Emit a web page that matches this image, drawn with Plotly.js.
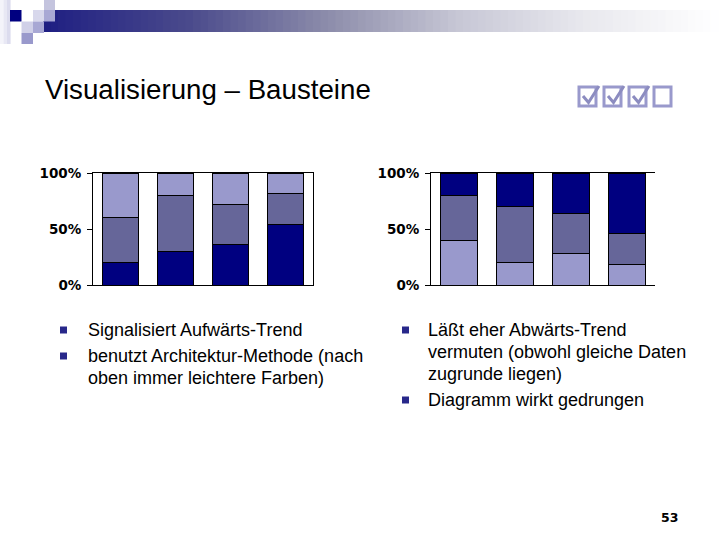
<!DOCTYPE html>
<html>
<head>
<meta charset="utf-8">
<script src="https://cdn.plot.ly/plotly-3.0.1.min.js"></script>
<style>html,body{margin:0;padding:0;background:#fff;}#chart{width:720px;height:540px;}</style>
</head>
<body>
<div id="chart"></div>
<script>
// ---- data ----
const categories = ['A', 'B', 'C', 'D'];
const darkValues = [20, 30, 36, 54];
const midValues = [40, 50, 36, 28];
const lightValues = [40, 20, 28, 18];
const yTickVals = [0, 50, 100];
const yTickText = ['0%', '50%', '100%'];
const titleText = 'Visualisierung – Bausteine';
const leftBullets = [['Signalisiert Aufwärts-Trend'], ['benutzt Architektur-Methode (nach', 'oben immer leichtere Farben)']];
const rightBullets = [['Läßt eher Abwärts-Trend', 'vermuten (obwohl gleiche Daten', 'zugrunde liegen)'], ['Diagramm wirkt gedrungen']];
const pageNumber = '53';

// ---- helpers ----
const W = 720, H = 540;
const px = x => x / W;
const py = y => 1 - y / H;
const COL_DARK = '#000080', COL_MID = '#666699', COL_LIGHT = '#9999CC';
const FONT = 'Arial, "Liberation Sans", sans-serif';

function bar(vals, color, xa, ya) {
  return {type: 'bar', x: categories, y: vals, xaxis: xa, yaxis: ya,
    marker: {color: color, line: {color: '#000', width: 1}}, hoverinfo: 'skip', showlegend: false};
}

const traces = [
  bar(darkValues, COL_DARK, 'x', 'y'),
  bar(midValues, COL_MID, 'x', 'y'),
  bar(lightValues, COL_LIGHT, 'x', 'y'),
  bar(lightValues, COL_LIGHT, 'x2', 'y2'),
  bar(midValues, COL_MID, 'x2', 'y2'),
  bar(darkValues, COL_DARK, 'x2', 'y2')
];

const shapes = [];
// header gradient bar
const stops = [[0, [30, 30, 130]], [0.22, [75, 75, 140]], [0.42, [140, 140, 170]], [0.62, [200, 200, 214]], [0.8, [232, 232, 238]], [1, [255, 255, 255]]];
function gcol(t) {
  for (let i = 1; i < stops.length; i++) {
    if (t <= stops[i][0]) {
      const a = stops[i - 1], b = stops[i];
      const f = (t - a[0]) / (b[0] - a[0]);
      const c = a[1].map((v, k) => Math.round(v + (b[1][k] - v) * f));
      return 'rgb(' + c.join(',') + ')';
    }
  }
  return '#fff';
}
const gx0 = 43, gx1 = 718, steps = 90;
for (let i = 0; i < steps; i++) {
  const xa = gx0 + (gx1 - gx0) * i / steps, xb = gx0 + (gx1 - gx0) * (i + 1) / steps + 0.6;
  shapes.push({type: 'rect', xref: 'paper', yref: 'paper', x0: px(xa), x1: px(xb), y0: py(32), y1: py(10),
    fillcolor: gcol((i + 0.5) / steps), line: {width: 0}, layer: 'below'});
}
// left faint strip
[[0, '#f4f4fa'], [3.5, '#e8e8f4'], [7, '#dcdcee']].forEach(s => {
  shapes.push({type: 'rect', xref: 'paper', yref: 'paper', x0: px(s[0]), x1: px(s[0] + 3.6), y0: py(44), y1: py(0),
    fillcolor: s[1], line: {width: 0}, layer: 'below'});
});
// header squares
const sq = [[44, 0, 55, 10, '#c4c4de'], [10, 10, 21.5, 21.5, '#000080'], [33, 10, 44, 21.5, '#d8d8ec'], [44, 10, 55, 21.5, '#a8a8d4'],
  [21.5, 21.5, 33, 33, '#d0d0e8'], [33, 21.5, 44, 33, '#a8a8d4'], [21.5, 33, 33, 44, '#9999cc']];
sq.forEach(s => shapes.push({type: 'rect', xref: 'paper', yref: 'paper', x0: px(s[0]), x1: px(s[2]), y0: py(s[3]), y1: py(s[1]),
  fillcolor: s[4], line: {width: 0}, layer: 'below'}));
// checkboxes
const boxX = [579, 604, 629, 654];
boxX.forEach((bx, i) => {
  const by = 87;
  shapes.push({type: 'rect', xref: 'paper', yref: 'paper', x0: px(bx), x1: px(bx + 17), y0: py(by + 19), y1: py(by),
    fillcolor: 'rgba(0,0,0,0)', line: {color: '#9999CC', width: 3}});
  if (i < 3) {
    shapes.push({type: 'path', xref: 'paper', yref: 'paper',
      path: 'M ' + px(bx + 4) + ',' + py(by + 9) + ' L ' + px(bx + 9.5) + ',' + py(by + 15.5) + ' L ' + px(bx + 20) + ',' + py(by - 1),
      line: {color: '#8c8cc0', width: 3}});
  }
});
// bullets
[[60, 330], [60, 356], [402, 330], [402, 400]].forEach(b => {
  shapes.push({type: 'rect', xref: 'paper', yref: 'paper', x0: px(b[0]), x1: px(b[0] + 7), y0: py(b[1] + 3.5), y1: py(b[1] - 3.5),
    fillcolor: '#28288a', line: {width: 0}});
});

const annotations = [];
annotations.push({text: titleText, xref: 'paper', yref: 'paper', x: px(43), y: py(90), xanchor: 'left', yanchor: 'middle',
  showarrow: false, font: {family: FONT, size: 27.7, color: '#000'}});
function addLines(lines, x, ys) {
  lines.forEach((t, i) => annotations.push({text: t, xref: 'paper', yref: 'paper', x: px(x), y: py(ys[i]), xanchor: 'left', yanchor: 'middle',
    showarrow: false, font: {family: FONT, size: 18, color: '#000'}}));
}
addLines(leftBullets.flat(), 86, [330, 356, 378]);
addLines(rightBullets.flat(), 426, [330, 352, 374, 400]);
annotations.push({text: pageNumber, xref: 'paper', yref: 'paper', x: px(669), y: py(517), xanchor: 'center', yanchor: 'middle',
  showarrow: false, font: {family: '"DejaVu Sans", sans-serif', size: 12.5, weight: 'bold', color: '#000'}});

const yDom = [py(285), py(173)];
const tickfont = {family: '"DejaVu Sans", sans-serif', size: 13.5, weight: 'bold', color: '#000'};
function xAx(d) {
  return {domain: d, range: [-0.5, 3.5], showline: true, linecolor: '#000', linewidth: 1, mirror: true,
    showticklabels: false, ticks: '', showgrid: false, zeroline: false, fixedrange: true};
}
function yAx(anchor, mirror) {
  return {domain: yDom, anchor: anchor, range: [0, 100], showline: true, linecolor: '#000', linewidth: 1, mirror: mirror,
    tickvals: yTickVals, ticktext: yTickText, ticks: 'outside', ticklen: 5, tickcolor: '#000', tickwidth: 1,
    ticklabelstandoff: 3, tickfont: tickfont, showgrid: false, zeroline: false, fixedrange: true};
}

const layout = {
  width: W, height: H, margin: {l: 0, r: 0, t: 0, b: 0}, paper_bgcolor: '#fff', plot_bgcolor: 'rgba(0,0,0,0)',
  barmode: 'stack', bargap: 0.33, showlegend: false,
  xaxis: Object.assign(xAx([px(93), px(313)]), {anchor: 'y'}),
  yaxis: yAx('x', true),
  xaxis2: Object.assign(xAx([px(431), px(655)]), {anchor: 'y2'}),
  yaxis2: yAx('x2', false),
  shapes: shapes, annotations: annotations
};

Plotly.newPlot('chart', traces, layout, {staticPlot: true, displayModeBar: false});
</script>
</body>
</html>
